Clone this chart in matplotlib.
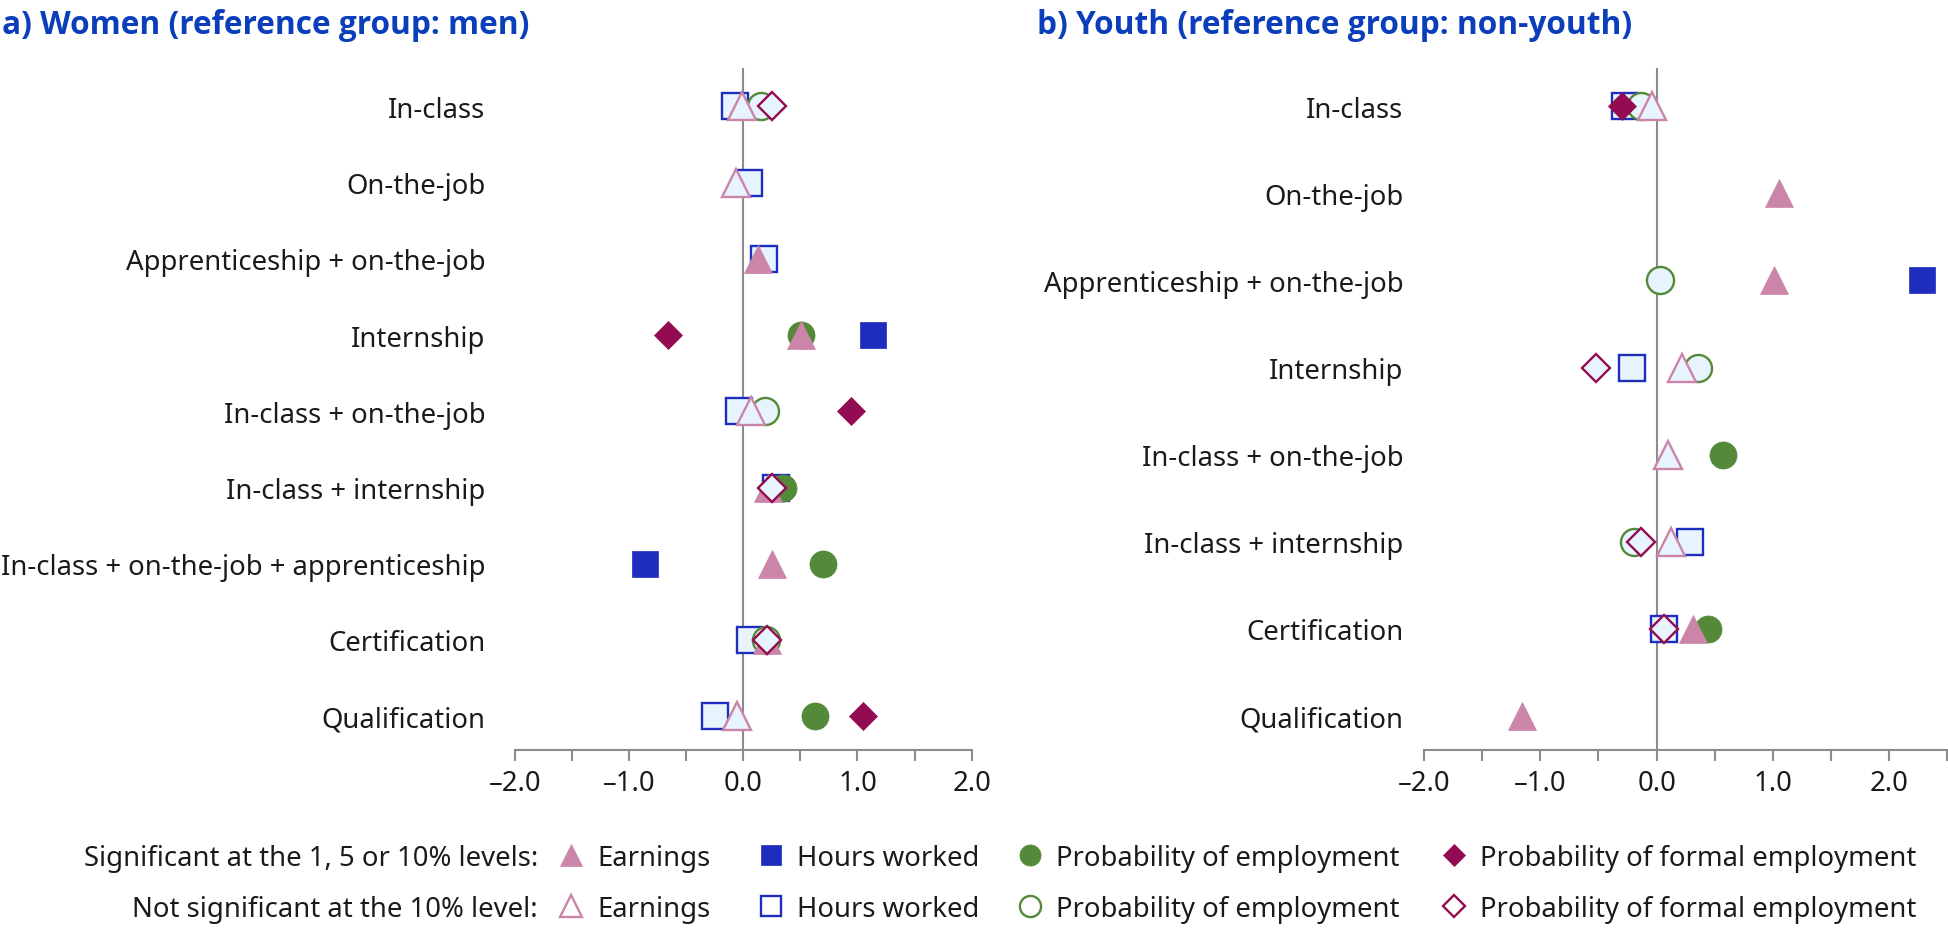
import matplotlib
matplotlib.use("Agg")
import matplotlib.pyplot as plt
from matplotlib.lines import Line2D

plt.rcParams['font.family'] = ['Noto Sans', 'DejaVu Sans']

# ---- data ----
women_categories = ["In-class", "On-the-job", "Apprenticeship + on-the-job", "Internship",
                     "In-class + on-the-job", "In-class + internship",
                     "In-class + on-the-job + apprenticeship", "Certification", "Qualification"]
women_earnings = [-0.01, -0.06, 0.13, 0.505, 0.07, 0.22, 0.25, 0.21, -0.055]
women_earnings_sig = [False, False, True, True, False, True, True, True, False]
women_hours = [-0.07, 0.05, 0.18, 1.14, -0.04, 0.29, -0.86, 0.06, -0.245]
women_hours_sig = [False, False, False, True, False, False, True, False, False]
women_employment = [0.155, None, None, 0.505, 0.19, 0.35, 0.70, 0.20, 0.63]
women_employment_sig = [False, False, False, True, False, True, True, False, True]
women_formal = [0.25, None, None, -0.66, 0.945, 0.25, None, 0.21, 1.05]
women_formal_sig = [False, False, False, True, True, False, False, False, True]

youth_categories = ["In-class", "On-the-job", "Apprenticeship + on-the-job", "Internship",
                    "In-class + on-the-job", "In-class + internship", "Certification", "Qualification"]
youth_earnings = [-0.04, 1.05, 1.01, 0.22, 0.10, 0.12, 0.31, -1.16]
youth_earnings_sig = [False, True, True, False, False, False, True, True]
youth_hours = [-0.27, None, 2.28, -0.215, None, 0.29, 0.06, None]
youth_hours_sig = [False, False, True, False, False, False, False, False]
youth_employment = [-0.13, None, 0.03, 0.36, 0.57, -0.19, 0.44, None]
youth_employment_sig = [False, False, False, False, True, False, True, False]
youth_formal = [-0.30, None, None, -0.52, None, -0.13, 0.06, None]
youth_formal_sig = [True, False, False, False, False, False, False, False]

# ---- styles ----
C_EARN = '#CB85A8'
C_HOURS = '#1F2DBE'
C_EMP = '#54893A'
C_FORMAL = '#930B50'
HOLLOW = '#E8F4FD'
GRAY = '#8C8C8C'
TITLE = '#0B3EBA'
FS = 19.8

# colour, marker, markersize in pt
styles = {
    'hours': (C_HOURS, 's', 18.5),
    'emp': (C_EMP, 'o', 19.5),
    'earn': (C_EARN, '^', 20),
    'formal': (C_FORMAL, 'D', 14.5),
}


def draw_series(ax, values, sig, key, z):
    color, marker, ms = styles[key]
    for i, v in enumerate(values):
        if v is None:
            continue
        if sig[i]:
            ax.plot([v], [i], linestyle='none', marker=marker, ms=ms,
                    mfc=color, mec=color, mew=0.5, zorder=z, clip_on=False)
        else:
            ax.plot([v], [i], linestyle='none', marker=marker, ms=ms,
                    mfc=HOLLOW, mec=color, mew=1.7, zorder=z, clip_on=False)


def setup_panel(ax, cats, xlim, ylim, pad):
    ax.set_xlim(*xlim)
    ax.set_ylim(*ylim)
    ax.set_yticks(range(len(cats)))
    ax.set_yticklabels(cats, fontsize=FS, color='#1a1a1a')
    ax.tick_params(axis='y', length=0, pad=pad)
    ticks = [xlim[0] + 0.5 * k for k in range(int(round((xlim[1] - xlim[0]) / 0.5)) + 1)]
    ax.set_xticks(ticks)
    ax.set_xticklabels([f"{t:.1f}".replace('-', '\u2013') if t == int(t) else '' for t in ticks],
                       fontsize=FS, color='#1a1a1a')
    ax.tick_params(axis='x', direction='out', length=8, width=1.5, color=GRAY, pad=6)
    for s in ['left', 'right', 'top']:
        ax.spines[s].set_visible(False)
    ax.spines['bottom'].set_color(GRAY)
    ax.spines['bottom'].set_linewidth(1.5)
    ax.axvline(0, color=GRAY, lw=1.5, zorder=1)
    ax.patch.set_alpha(0)


W, H = 1949, 929
fig = plt.figure(figsize=(W / 100, H / 100), dpi=100)

ax1 = fig.add_axes([514.7 / W, 1 - 750.7 / H, 457 / W, 681.4 / H])
ax2 = fig.add_axes([1424 / W, 1 - 751 / H, 523.3 / W, 681.7 / H])

setup_panel(ax1, women_categories, (-2, 2), (8.44, -0.5), 21)
setup_panel(ax2, youth_categories, (-2, 2.5), (7.39, -0.436), 15)

for ax, data in [(ax1, [(women_hours, women_hours_sig, 'hours'),
                        (women_employment, women_employment_sig, 'emp'),
                        (women_earnings, women_earnings_sig, 'earn'),
                        (women_formal, women_formal_sig, 'formal')]),
                 (ax2, [(youth_hours, youth_hours_sig, 'hours'),
                        (youth_employment, youth_employment_sig, 'emp'),
                        (youth_earnings, youth_earnings_sig, 'earn'),
                        (youth_formal, youth_formal_sig, 'formal')])]:
    for z, (vals, sig, key) in enumerate(data):
        draw_series(ax, vals, sig, key, 3 + z)

title_font = ['Open Sans', 'Noto Sans', 'DejaVu Sans']
fig.text(2 / W, 1 - 34 / H, "a) Women (reference group: men)", fontsize=22.8,
         fontweight='bold', family=title_font, color=TITLE, va='baseline', ha='left')
fig.text(1037 / W, 1 - 34 / H, "b) Youth (reference group: non-youth)", fontsize=22.8,
         fontweight='bold', family=title_font, color=TITLE, va='baseline', ha='left')

# ---- legend ----
legend_items = [('earn', 'Earnings', 571), ('hours', 'Hours worked', 771),
                ('emp', 'Probability of employment', 1030),
                ('formal', 'Probability of formal employment', 1454)]
rows = [("Significant at the 1, 5 or 10% levels:", True, 856, 866),
        ("Not significant at the 10% level:", False, 907, 917)]
for label, filled, yc, yb in rows:
    fig.text(538 / W, 1 - yb / H, label, fontsize=FS, ha='right', va='baseline', color='#1a1a1a')
    for key, text, xm in legend_items:
        color, marker, ms = styles[key]
        ms_leg = ms * 0.78
        fig.add_artist(Line2D([xm / W], [1 - yc / H], transform=fig.transFigure,
                              linestyle='none', marker=marker, ms=ms_leg,
                              mfc=color if filled else 'white', mec=color,
                              mew=0.5 if filled else 1.7))
        fig.text((xm + 26) / W, 1 - yb / H, text, fontsize=FS, ha='left', va='baseline',
                 color='#1a1a1a')

fig.savefig('out.png', dpi=100)
